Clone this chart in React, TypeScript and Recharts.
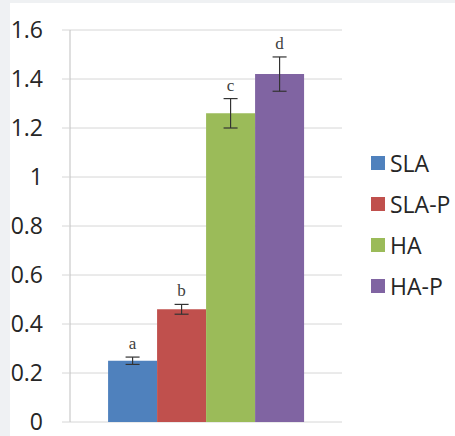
import { BarChart, Bar, XAxis, YAxis, CartesianGrid, ErrorBar, LabelList } from "recharts"

const groups = ["SLA", "SLA-P", "HA", "HA-P"]
const means = [0.25, 0.46, 1.26, 1.42]
const errors = [0.015, 0.02, 0.06, 0.07]
const letters = ["a", "b", "c", "d"]
const colors = ["#4f81bd", "#c0504d", "#9bbb59", "#8064a2"]
const yTicks = [0, 0.2, 0.4, 0.6, 0.8, 1, 1.2, 1.4, 1.6]

const row: Record<string, any> = { name: "treatment" }
groups.forEach((g, i) => {
    row[`v${i}`] = means[i]
    row[`e${i}`] = errors[i]
    row[`l${i}`] = letters[i]
})
const data = [row]

const gridColor = "#d6d6d6"
const axisColor = "#bfbfbf"
const sans = "'Open Sans', sans-serif"

// letter sits a little above the top of the error bar
const letterLabel = (i: number) => (props: any) => {
    const vb = props.viewBox || props
    const { x, y, width, height } = vb
    const errPx = (errors[i] * height) / means[i]
    return (
        <text
            x={x + width / 2}
            y={y - errPx - 8}
            textAnchor="middle"
            fontFamily="'Liberation Serif', serif"
            fontSize={17}
            fill="#404040"
        >
            {props.value}
        </text>
    )
}

export default function App() {
    return (
        <div style={{ position: "absolute", left: 0, top: 0, width: 455, height: 436, background: "#eff1f3", overflow: "hidden" }}>
            <div style={{ position: "absolute", left: 10, top: 3, right: 0, bottom: 0, background: "#fff" }} />
            <div style={{ position: "absolute", left: 0, top: 0 }}>
                <BarChart
                    width={455}
                    height={436}
                    data={data}
                    margin={{ top: 30, right: 113, bottom: 0, left: 0 }}
                    barCategoryGap="14%"
                    barGap={0}
                >
                    <CartesianGrid vertical={false} stroke={gridColor} xAxisId="cat" />
                    <XAxis xAxisId="cat" dataKey="name" hide />
                    <XAxis
                        xAxisId="frame"
                        type="number"
                        domain={[0, 1]}
                        ticks={[0, 1]}
                        tick={false}
                        tickSize={8}
                        height={14}
                        axisLine={{ stroke: axisColor }}
                        tickLine={{ stroke: axisColor }}
                    />
                    <YAxis
                        width={70}
                        domain={[0, 1.6]}
                        ticks={yTicks}
                        tickSize={8}
                        tickMargin={19}
                        tickFormatter={(v) => String(v)}
                        axisLine={{ stroke: axisColor }}
                        tickLine={{ stroke: gridColor }}
                        tick={{ fontFamily: sans, fontSize: 23, fill: "#262626" }}
                    />
                    {groups.map((g, i) => (
                        <Bar key={g} xAxisId="cat" dataKey={`v${i}`} name={g} fill={colors[i]} isAnimationActive={false}>
                            <ErrorBar dataKey={`e${i}`} width={7} stroke="#333" strokeWidth={1.2} isAnimationActive={false} />
                            <LabelList dataKey={`l${i}`} content={letterLabel(i)} />
                        </Bar>
                    ))}
                </BarChart>
            </div>
            {groups.map((g, i) => (
                <div
                    key={g}
                    style={{
                        position: "absolute",
                        left: 371,
                        top: 163 + i * 41 - 16,
                        height: 32,
                        display: "flex",
                        alignItems: "center",
                        fontFamily: sans,
                        fontSize: 23,
                        color: "#262626",
                    }}
                >
                    <span style={{ display: "inline-block", width: 14, height: 14, background: colors[i], marginRight: 5 }} />
                    {g}
                </div>
            ))}
        </div>
    )
}
